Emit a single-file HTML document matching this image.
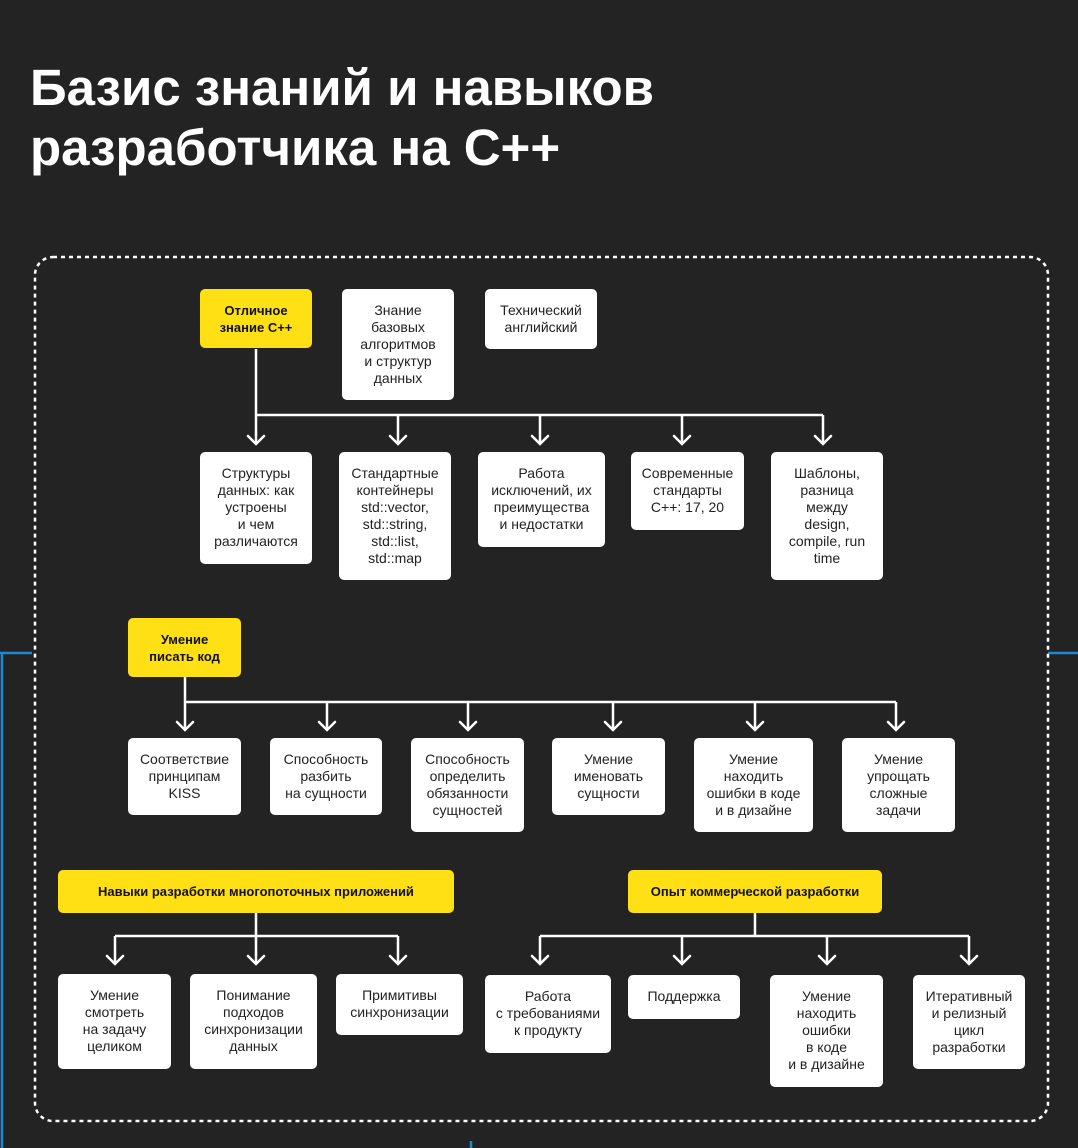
<!DOCTYPE html>
<html><head><meta charset="utf-8"><style>
html,body{margin:0;padding:0}
body{width:1078px;height:1148px;background:#232323;position:relative;overflow:hidden;font-family:"Liberation Sans",sans-serif}
h1{position:absolute;left:30px;top:58px;margin:0;color:#fff;font-size:51px;line-height:60px;font-weight:bold;letter-spacing:0px}
.b{position:absolute;background:#fff;border-radius:5px;color:#222;font-size:14px;line-height:17px;text-align:center;box-sizing:border-box;padding-top:13px}
.y{background:#ffe014;font-weight:bold;font-size:13px;line-height:17px;color:#111}
svg{position:absolute;left:0;top:0}
</style></head><body>
<h1>Базис знаний и навыков<br>разработчика на С++</h1>
<svg width="1078" height="1148">
<g fill="none" stroke="#1e88d8" stroke-width="2.5">
<path d="M0 653 H32 M2 653 V1148 M1048 653 H1078 M471 1141 V1148"/>
</g>
<rect x="35" y="257" width="1013" height="864" rx="18" fill="none" stroke="#fff" stroke-width="2.5" stroke-dasharray="4 4"/>
<g fill="none" stroke="#fff" stroke-width="2.5">
<path d="M256 349V415 M256 415H823 M256 415V444 M398 415V444 M540 415V444 M682 415V444 M823 415V444"/>
<path d="M185 677V702 M185 702H896 M185 702V730 M327 702V730 M468 702V730 M613 702V730 M755 702V730 M896 702V730"/>
<path d="M256 913V936 M115 936H398 M115 936V964 M256 936V964 M398 936V964"/>
<path d="M755 913V936 M540 936H969 M540 936V964 M682 936V964 M827 936V964 M969 936V964"/>
<g stroke-linecap="round">
<path d="M248 436l8 8 8-8 M390 436l8 8 8-8 M532 436l8 8 8-8 M674 436l8 8 8-8 M815 436l8 8 8-8"/>
<path d="M177 722l8 8 8-8 M319 722l8 8 8-8 M460 722l8 8 8-8 M605 722l8 8 8-8 M747 722l8 8 8-8 M888 722l8 8 8-8"/>
<path d="M107 956l8 8 8-8 M248 956l8 8 8-8 M390 956l8 8 8-8"/>
<path d="M532 956l8 8 8-8 M674 956l8 8 8-8 M819 956l8 8 8-8 M961 956l8 8 8-8"/>
</g></g>
</svg>
<div class="b y" style="left:200px;top:289px;width:112px;height:59px;padding-top:13px">Отличное<br>знание С++</div>
<div class="b" style="left:342px;top:289px;width:112px;height:111px">Знание<br>базовых<br>алгоритмов<br>и структур<br>данных</div>
<div class="b" style="left:485px;top:289px;width:112px;height:60px">Технический<br>английский</div>

<div class="b" style="left:200px;top:452px;width:112px;height:112px">Структуры<br>данных: как<br>устроены<br>и чем<br>различаются</div>
<div class="b" style="left:339px;top:452px;width:112px;height:128px">Стандартные<br>контейнеры<br>std::vector,<br>std::string,<br>std::list,<br>std::map</div>
<div class="b" style="left:478px;top:452px;width:127px;height:95px">Работа<br>исключений, их<br>преимущества<br>и недостатки</div>
<div class="b" style="left:631px;top:452px;width:113px;height:78px">Современные<br>стандарты<br>С++: 17, 20</div>
<div class="b" style="left:771px;top:452px;width:112px;height:128px">Шаблоны,<br>разница<br>между<br>design,<br>compile, run<br>time</div>

<div class="b y" style="left:128px;top:618px;width:113px;height:59px">Умение<br>писать код</div>
<div class="b" style="left:128px;top:738px;width:113px;height:77px">Соответствие<br>принципам<br>KISS</div>
<div class="b" style="left:270px;top:738px;width:112px;height:77px">Способность<br>разбить<br>на сущности</div>
<div class="b" style="left:411px;top:738px;width:113px;height:94px">Способность<br>определить<br>обязанности<br>сущностей</div>
<div class="b" style="left:552px;top:738px;width:113px;height:77px">Умение<br>именовать<br>сущности</div>
<div class="b" style="left:694px;top:738px;width:119px;height:94px">Умение<br>находить<br>ошибки в коде<br>и в дизайне</div>
<div class="b" style="left:842px;top:738px;width:113px;height:94px">Умение<br>упрощать<br>сложные<br>задачи</div>

<div class="b y" style="left:58px;top:870px;width:396px;height:43px">Навыки разработки многопоточных приложений</div>
<div class="b y" style="left:628px;top:870px;width:254px;height:43px">Опыт коммерческой разработки</div>

<div class="b" style="left:58px;top:974px;width:113px;height:95px">Умение<br>смотреть<br>на задачу<br>целиком</div>
<div class="b" style="left:190px;top:974px;width:127px;height:95px">Понимание<br>подходов<br>синхронизации<br>данных</div>
<div class="b" style="left:336px;top:974px;width:127px;height:61px">Примитивы<br>синхронизации</div>
<div class="b" style="left:485px;top:975px;width:126px;height:78px">Работа<br>с требованиями<br>к продукту</div>
<div class="b" style="left:628px;top:975px;width:112px;height:44px">Поддержка</div>
<div class="b" style="left:770px;top:975px;width:113px;height:112px">Умение<br>находить<br>ошибки<br>в коде<br>и в дизайне</div>
<div class="b" style="left:913px;top:975px;width:112px;height:94px">Итеративный<br>и релизный<br>цикл<br>разработки</div>
</body></html>
